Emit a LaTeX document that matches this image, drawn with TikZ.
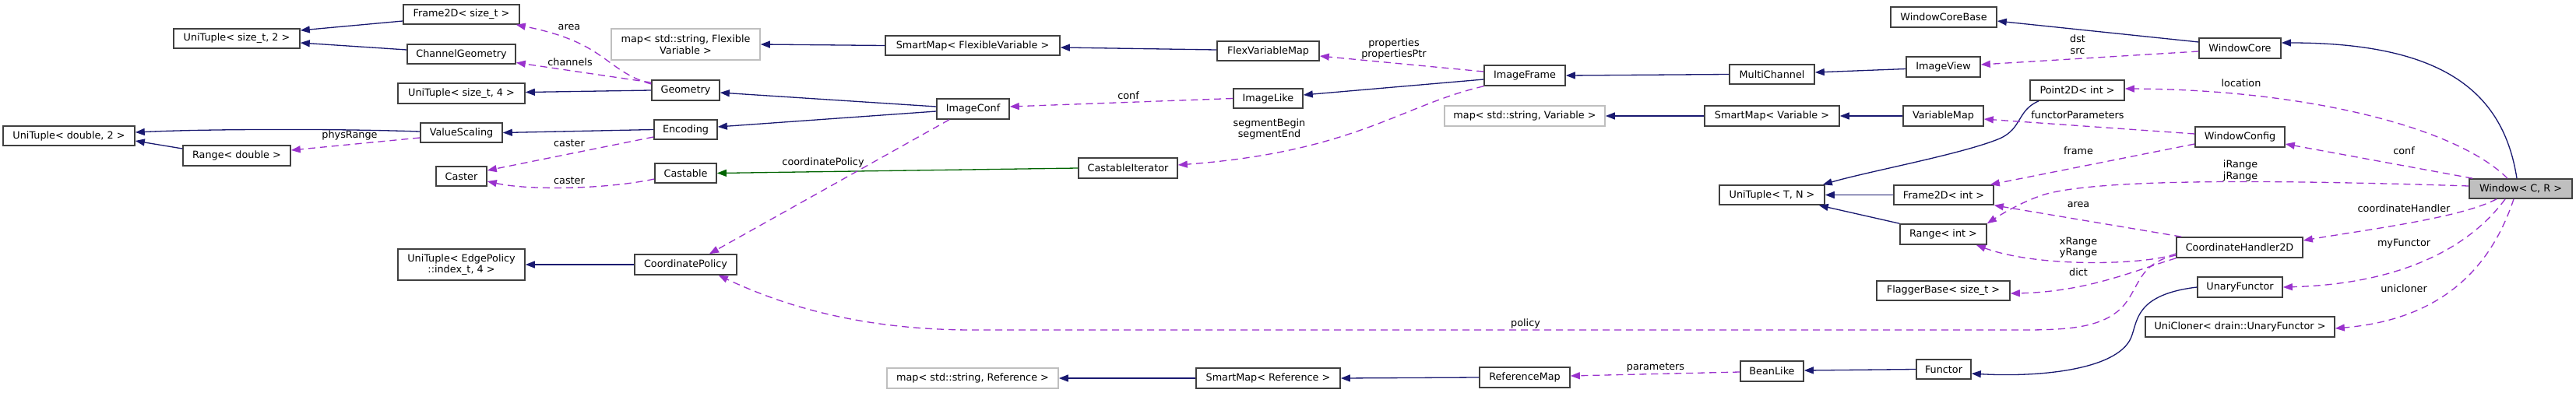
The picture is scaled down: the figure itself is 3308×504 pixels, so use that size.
\documentclass[tikz,border=0pt]{standalone}
\usepackage{fontspec}
\setmainfont{DejaVu Sans}
\usetikzlibrary{arrows.meta}
\definecolor{inhc}{HTML}{191970}
\definecolor{protc}{HTML}{006400}
\definecolor{usec}{HTML}{9A32CD}
\definecolor{bordc}{HTML}{404040}
\definecolor{grayc}{HTML}{BFBFBF}
\begin{document}
\begin{tikzpicture}[x=1pt,y=-1pt,
  box/.style={draw=bordc, line width=1.6pt, fill=white, inner sep=0pt, minimum height=25pt, align=center, font=\fontsize{12.8}{14.5}\selectfont},
  ext/.style={box, draw=grayc},
  lbl/.style={inner sep=0pt, align=center, font=\fontsize{12.8}{14.5}\selectfont},
  inh/.style={draw=inhc, line width=1.3pt, -{Triangle[length=12pt,width=9pt]}},
  prot/.style={draw=protc, line width=1.3pt, -{Triangle[length=12pt,width=9pt]}},
  use/.style={draw=usec, line width=1.3pt, dash pattern=on 9pt off 6pt, -{Triangle[length=12pt,width=9pt]}}
]
\useasboundingbox[fill=white] (0,0) rectangle (3308,504);

% ---- nodes ----
\node[box, minimum width=149pt] (f2dst) at (592.5,18.5) {Frame2D< size\_t >};
\node[box, minimum width=162pt] (ut2) at (304,49.5) {UniTuple< size\_t, 2 >};
\node[box, minimum width=139pt] (chgeo) at (592.5,69.5) {ChannelGeometry};
\node[box, minimum width=163pt, minimum height=26pt] (ut4) at (592.5,120) {UniTuple< size\_t, 4 >};
\node[box, minimum width=169pt] (utd2) at (88.5,174.5) {UniTuple< double, 2 >};
\node[box, minimum width=105pt] (vs) at (592.5,170.5) {ValueScaling};
\node[box, minimum width=138pt, minimum height=26pt] (rd) at (304,200) {Range< double >};
\node[box, minimum width=65pt] (caster) at (592.5,226.5) {Caster};
\node[box, minimum width=163pt, minimum height=40pt] (uted) at (592.5,340) {UniTuple< EdgePolicy\\::index\_t, 4 >};
\node[ext, minimum width=191pt, minimum height=40pt] (mapfv) at (880.5,57) {map< std::string, Flexible\\Variable >};
\node[box, minimum width=224pt] (smfv) at (1249,58.5) {SmartMap< FlexibleVariable >};
\node[box, minimum width=131pt] (fvm) at (1628.5,65.5) {FlexVariableMap};
\node[box, minimum width=87pt, minimum height=26pt] (geom) at (880.5,116) {Geometry};
\node[box, minimum width=93pt, minimum height=26pt] (iconf) at (1249.5,140) {ImageConf};
\node[box, minimum width=81pt] (enc) at (880.5,166.5) {Encoding};
\node[box, minimum width=89pt] (ilike) at (1628.5,126.5) {ImageLike};
\node[box, minimum width=79pt] (castable) at (880.5,222.5) {Castable};
\node[box, minimum width=127pt, minimum height=26pt] (citer) at (1448.5,216) {CastableIterator};
\node[box, minimum width=131pt, minimum height=26pt] (cpol) at (880.5,340) {CoordinatePolicy};
\node[ext, minimum width=220pt, minimum height=26pt] (mapref) at (1249,486) {map< std::string, Reference >};
\node[box, minimum width=185pt, minimum height=26pt] (smref) at (1628.5,486) {SmartMap< Reference >};
\node[box, minimum width=104pt, minimum height=26pt] (iframe) at (1958,97) {ImageFrame};
\node[box, minimum width=109pt] (mch) at (2275.5,95.5) {MultiChannel};
\node[ext, minimum width=206pt, minimum height=26pt] (mapvar) at (1958,149) {map< std::string, Variable >};
\node[box, minimum width=173pt, minimum height=26pt] (smvar) at (2275.5,149) {SmartMap< Variable >};
\node[box, minimum width=135pt] (utn) at (2275.5,250.5) {UniTuple< T, N >};
\node[box, minimum width=116pt, minimum height=26pt] (refmap) at (1958,485) {ReferenceMap};
\node[box, minimum width=81pt, minimum height=26pt] (bean) at (2275.5,477) {BeanLike};
\node[box, minimum width=136pt, minimum height=26pt] (wcb) at (2496,22) {WindowCoreBase};
\node[box, minimum width=105pt, minimum height=26pt] (wcore) at (2876.5,62) {WindowCore};
\node[box, minimum width=95pt, minimum height=26pt] (iview) at (2495.5,86) {ImageView};
\node[box, minimum width=121pt, minimum height=26pt] (p2d) at (2667.5,116) {Point2D< int >};
\node[box, minimum width=103pt, minimum height=26pt] (vmap) at (2495.5,149) {VariableMap};
\node[box, minimum width=115pt, minimum height=26pt] (wconf) at (2876.5,176) {WindowConfig};
\node[box, fill=grayc, minimum width=132pt] (win) at (3237,242.5) {Window< C, R >};
\node[box, minimum width=128pt] (f2di) at (2496,250.5) {Frame2D< int >};
\node[box, minimum width=111pt, minimum height=26pt] (ri) at (2495.5,301) {Range< int >};
\node[box, minimum width=162pt, minimum height=26pt] (ch2d) at (2876,318) {CoordinateHandler2D};
\node[box, minimum width=171pt] (flag) at (2495.5,373.5) {FlaggerBase< size\_t >};
\node[box, minimum width=109pt, minimum height=26pt] (unf) at (2876.5,369) {UnaryFunctor};
\node[box, minimum width=243pt, minimum height=26pt] (ucl) at (2876.5,420) {UniCloner< drain::UnaryFunctor >};
\node[box, minimum width=70pt] (functor) at (2496,474.5) {Functor};

% ---- labels ----
\node[lbl] (lArea1) at (731,35) {area};
\node[lbl] (lChannels) at (732,80) {channels};
\node[lbl] (lPhys) at (449,174) {physRange};
\node[lbl] (lCaster1) at (731,184) {caster};
\node[lbl] (lCaster2) at (731,232) {caster};
\node[lbl] (lConf1) at (1449,123) {conf};
\node[lbl] (lCoordPol) at (1057,209) {coordinatePolicy};
\node[lbl] (lSeg) at (1630,166) {segmentBegin\\segmentEnd};
\node[lbl] (lProp) at (1790,63) {properties\\propertiesPtr};
\node[lbl] (lPolicy) at (1959,416) {policy};
\node[lbl] (lParam) at (2126,472) {parameters};
\node[lbl] (lDst) at (2668,57) {dst\\src};
\node[lbl] (lLoc) at (2878,107) {location};
\node[lbl] (lFP) at (2668,148) {functorParameters};
\node[lbl] (lFrame) at (2669,194) {frame};
\node[lbl] (lConf2) at (3087,194) {conf};
\node[lbl] (lIR) at (2877,219.5) {iRange\\jRange};
\node[lbl] (lArea2) at (2669,263) {area};
\node[lbl] (lCH) at (3087,268) {coordinateHandler};
\node[lbl] (lXR) at (2669,318) {xRange\\yRange};
\node[lbl] (lMyF) at (3087,313) {myFunctor};
\node[lbl] (lDict) at (2669,350) {dict};
\node[lbl] (lUni) at (3087,371) {unicloner};

% ---- inheritance ----
\draw[inh] ([yshift=-8.5pt]f2dst.west) -- ([yshift=10.5pt]ut2.east);
\draw[inh] ([yshift=5.5pt]chgeo.west) -- ([yshift=-5.5pt]ut2.east);
\draw[inh] (geom.west) -- ([yshift=1.5pt]ut4.east);
\draw[inh] ([yshift=1.5pt]vs.west) .. controls (420,165) and (260,166) .. ([yshift=4.5pt]utd2.east);
\draw[inh] ([yshift=9pt]rd.west) -- ([yshift=-6.5pt]utd2.east);
\draw[inh] (enc.west) -- (vs.east);
\draw[inh] ([yshift=3pt]iconf.west) -- ([yshift=-3pt]geom.east);
\draw[inh] ([yshift=-3pt]iconf.west) -- ([yshift=3.5pt]enc.east);
\draw[inh] (smfv.west) -- (mapfv.east);
\draw[inh] ([yshift=1.5pt]fvm.west) -- ([yshift=-2.5pt]smfv.east);
\draw[inh] ([yshift=-5pt]iframe.west) -- ([yshift=4.5pt]ilike.east);
\draw[inh] (mch.west) -- (iframe.east);
\draw[inh] ([yshift=-2.5pt]iview.west) -- ([yshift=2.5pt]mch.east);
\draw[inh] (smvar.west) -- (mapvar.east);
\draw[inh] (vmap.west) -- (smvar.east);
\draw[inh] ([yshift=8pt]wcore.west) -- ([yshift=-5pt]wcb.east);
\draw[inh] ([xshift=-5pt]win.north) .. controls (3215,120) and (3140,55) .. ([yshift=7pt]wcore.east);
\draw[inh] ([xshift=-49.5pt]p2d.south) .. controls (2590,142) and (2597,165) .. (2568,178) .. controls (2520,198) and (2400,220) .. ([xshift=-3pt]utn.north east);
\draw[inh] (f2di.west) -- (utn.east);
\draw[inh] (ri.north west) -- ([xshift=-8pt]utn.south east);
\draw[inh] (cpol.west) -- (uted.east);
\draw[inh] (smref.west) -- (mapref.east);
\draw[inh] (refmap.west) -- (smref.east);
\draw[inh] (functor.west) -- ([yshift=1pt]bean.east);
\draw[inh] (unf.west) .. controls (2745,378) and (2745,410) .. (2738,430) .. controls (2725,475) and (2620,485) .. ([yshift=-5.5pt]functor.east);
\draw[prot] (citer.west) -- (castable.east);

% ---- usage ----
\draw[use] ([yshift=8pt]geom.west) .. controls (775,90) and (780,55) .. ([xshift=-5pt]f2dst.south east);
\draw[use] ([yshift=10pt]geom.west) -- ([yshift=-11pt]chgeo.east);
\draw[use] ([yshift=-6.5pt]vs.west) -- ([yshift=7pt]rd.east);
\draw[use] ([yshift=-9.5pt]enc.west) -- ([yshift=7.5pt]caster.east);
\draw[use] ([yshift=-7.5pt]castable.west) .. controls (780,243) and (680,245) .. ([yshift=-6.5pt]caster.east);
\draw[use] (ilike.west) -- ([yshift=3pt]iconf.east);
\draw[use] ([xshift=-30.5pt]iconf.south) -- ([xshift=30.5pt]cpol.north);
\draw[use] (iframe.south west) .. controls (1800,135) and (1740,195) .. ([yshift=4pt]citer.east);
\draw[use] ([yshift=5pt]iframe.west) -- ([yshift=-6.5pt]fvm.east);
\draw[use] ([yshift=-4pt]wcore.west) -- ([yshift=3pt]iview.east);
\draw[use] ([xshift=-17pt]win.north) .. controls (3150,160) and (2950,115) .. ([yshift=2pt]p2d.east);
\draw[use] ([yshift=4pt]wconf.west) -- ([yshift=-4pt]vmap.east);
\draw[use] ([xshift=5pt]win.north west) -- ([yshift=-9pt]wconf.east);
\draw[use] ([yshift=-9pt]wconf.west) -- ([xshift=-5pt]f2di.north east);
\draw[use] ([yshift=3.5pt]win.west) .. controls (2950,232) and (2700,228) .. (2625,250) .. controls (2600,258) and (2575,272) .. (ri.north east);
\draw[use] ([xshift=7pt]ch2d.north west) -- (f2di.south east);
\draw[use] ([yshift=-8pt]ch2d.west) .. controls (2760,340) and (2620,345) .. ([xshift=-14pt]ri.south east);
\draw[use] (ch2d.south west) .. controls (2740,348) and (2680,375) .. ([yshift=-3.5pt]flag.east);
\draw[use] ([yshift=-10pt]ch2d.west) .. controls (2745,338) and (2748,370) .. (2725,395) .. controls (2700,420) and (2660,424) .. (2600,424) -- (1250,424) .. controls (1100,424) and (1000,390) .. ([xshift=-24pt]cpol.south east);
\draw[use] ([xshift=-31pt]win.south) .. controls (3160,280) and (3040,295) .. ([yshift=9pt]ch2d.east);
\draw[use] ([xshift=-20pt]win.south) .. controls (3170,320) and (3080,365) .. (unf.east);
\draw[use] ([xshift=-9pt]win.south) .. controls (3200,340) and (3140,410) .. ([yshift=-2pt]ucl.east);
\draw[use] ([yshift=-1pt]bean.west) -- ([yshift=2pt]refmap.east);
\end{tikzpicture}
\end{document}
